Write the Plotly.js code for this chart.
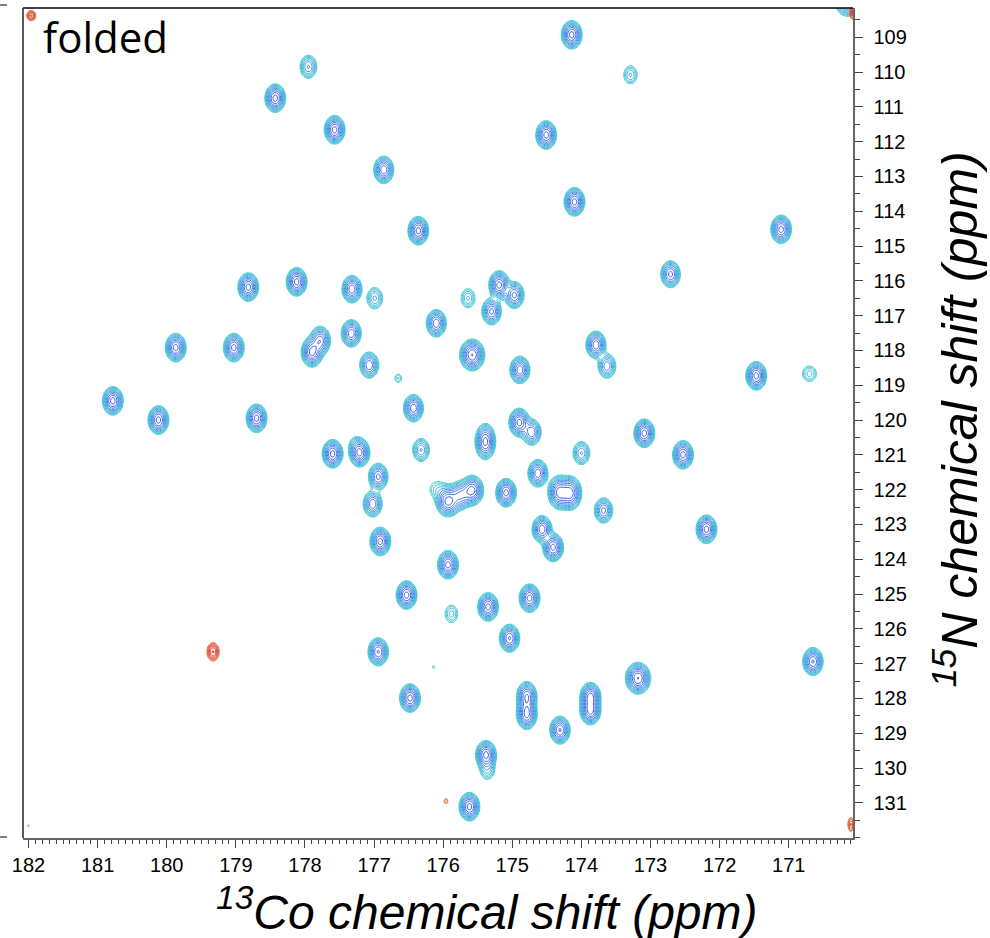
<!DOCTYPE html>
<html><head><meta charset="utf-8">
<script src="https://cdn.plot.ly/plotly-3.0.1.min.js"></script>
<style>body{margin:0;background:#fff}</style>
</head><body><div id="chart" style="width:990px;height:938px"></div>
<script>
// Positive cross-peaks (13C', 15N, height, linewidth C, linewidth N)
const posC  = [174.14,173.29,177.95,178.43,177.57,176.86,174.51,174.10,176.36,171.11,172.71,177.32,176.99,175.64,175.19,174.97,175.30,178.82,178.12,176.10,177.33,179.87,179.03,177.90,177.78,177.07,176.65,175.58,174.89,173.79,173.63,171.47,170.70,180.78,180.12,178.70,176.43,174.90,174.72,175.39,174.00,173.09,172.53,172.19,177.60,177.21,177.27,176.94,177.02,176.32,175.93,175.75,175.58,176.08,175.09,174.63,174.32,174.16,173.68,174.57,174.41,176.91,175.93,176.53,175.35,174.75,175.88,175.04,176.94,176.14,176.48,173.18,174.79,174.79,173.87,173.87,174.31,175.38,175.36,175.62,170.65,170.15,181.95];
const posN  = [108.93,110.08,109.85,110.75,111.66,112.81,111.81,113.73,114.56,114.52,115.81,116.24,116.50,116.50,116.12,116.41,116.88,116.18,116.03,117.22,117.51,117.92,117.92,118.05,117.72,118.42,118.80,118.13,118.56,117.84,118.45,118.73,118.67,119.45,120.00,119.95,119.66,120.07,120.35,120.62,120.95,120.38,121.00,123.14,120.97,120.94,120.70,121.63,122.41,120.86,122.34,122.16,122.02,122.00,122.09,121.53,122.08,122.10,122.60,123.14,123.66,123.49,124.16,125.03,125.37,125.12,125.57,126.27,126.66,127.10,127.99,127.42,127.95,128.45,127.95,128.35,128.91,129.62,130.05,131.11,126.94,107.95,108.00];
const posH  = [12,3,5,12,12,10,12,12,12,12,9,10,4,3,12,9,9,12,12,10,10,12,12,12,10,8,1.8,14,10,10,6,12,2.5,12,12,12,10,12,8,12,5,12,12,12,12,12,1.6,9,8,5,12,8,12,2,12,10,12,12,7,10,12,12,12,12,12,12,2.5,11,11,1.3,12,14,11,12,12,12,11,12,3,12,11,10,3];
const posWC = [.068,.066,.068,.068,.068,.068,.068,.068,.068,.068,.068,.068,.068,.068,.068,.068,.068,.068,.068,.068,.068,.068,.068,.07,.07,.068,.045,.08,.068,.068,.068,.068,.075,.068,.068,.068,.068,.068,.068,.068,.068,.068,.068,.068,.068,.068,.066,.068,.068,.068,.08,.08,.075,.095,.068,.068,.075,.075,.068,.068,.068,.068,.068,.068,.068,.068,.068,.068,.068,.03,.068,.08,.068,.068,.068,.068,.068,.068,.068,.068,.068,.085,.066];
const posWN = [.185,.175,.185,.185,.185,.185,.185,.185,.185,.185,.185,.185,.185,.185,.185,.185,.185,.185,.185,.185,.185,.185,.185,.195,.195,.185,.11,.2,.185,.185,.185,.185,.165,.185,.185,.185,.185,.185,.185,.235,.185,.185,.185,.185,.185,.185,.165,.185,.185,.185,.2,.2,.195,.195,.185,.185,.22,.22,.185,.185,.185,.185,.185,.185,.185,.185,.185,.185,.185,.05,.185,.2,.2,.2,.185,.185,.185,.185,.185,.185,.185,.21,.11];

// Negative (folded, opposite sign) peaks
const negC  = [179.33,175.96,182.00,170.10,181.96,170.05];
const negN  = [126.66,130.95,131.66,131.62,108.38,108.30];
const negH  = [5,1.6,1.3,3,4,5];
const negWC = [.05,.03,.02,.03,.04,.04];
const negWN = [.15,.08,.04,.14,.09,.12];

const xTicks = [182,181,180,179,178,177,176,175,174,173,172,171];
const yTicks = [109,110,111,112,113,114,115,116,117,118,119,120,121,122,123,124,125,126,127,128,129,130,131];

// spectrum grid built from the peak lists
const x0 = 169.8, dx = 0.02, nx = 626;
const y0 = 107.8, dy = 0.04, ny = 613;
const xs = Array.from({length:nx}, (_, i) => +(x0 + i*dx).toFixed(3));
const ys = Array.from({length:ny}, (_, j) => +(y0 + j*dy).toFixed(3));

function spectrum(C, N, H, WC, WN) {
  const z = ys.map(() => new Float64Array(nx));
  for (let p = 0; p < C.length; p++) {
    const i0 = Math.max(0, Math.floor((C[p] - 6*WC[p] - x0)/dx));
    const i1 = Math.min(nx-1, Math.ceil((C[p] + 6*WC[p] - x0)/dx));
    const j0 = Math.max(0, Math.floor((N[p] - 6*WN[p] - y0)/dy));
    const j1 = Math.min(ny-1, Math.ceil((N[p] + 6*WN[p] - y0)/dy));
    for (let j = j0; j <= j1; j++) {
      const ry = (ys[j] - N[p]) / WN[p];
      for (let i = i0; i <= i1; i++) {
        const rx = (xs[i] - C[p]) / WC[p];
        z[j][i] += H[p] * Math.exp(-0.5*(rx*rx + ry*ry));
      }
    }
  }
  return z.map(row => Array.from(row, v => Math.log(v + 1e-6)));
}

const step = Math.log(1.3);
const posTrace = {
  type: 'contour', x: xs, y: ys, z: spectrum(posC, posN, posH, posWC, posWN),
  contours: {coloring: 'lines', start: 0, end: Math.log(16), size: step},
  colorscale: [[0,'#42cacf'],[0.3,'#3ab4d8'],[0.6,'#3a80e6'],[1,'#2a4ce0']],
  zauto: false, zmin: 0, zmax: Math.log(14),
  line: {width: 1, smoothing: 1}, showscale: false, hoverinfo: 'skip'
};
const negTrace = {
  type: 'contour', x: xs, y: ys, z: spectrum(negC, negN, negH, negWC, negWN),
  contours: {coloring: 'lines', start: 0, end: Math.log(16), size: step},
  colorscale: [[0,'#ee7a50'],[0.5,'#e04a30'],[1,'#cc2020']],
  zauto: false, zmin: 0, zmax: Math.log(6),
  line: {width: 1, smoothing: 1}, showscale: false, hoverinfo: 'skip'
};

const tickFont = {family: 'Liberation Sans, Arial, sans-serif', size: 20, color: '#000'};
const layout = {
  width: 990, height: 938,
  margin: {l: 23, r: 137, t: 8, b: 100},
  paper_bgcolor: '#fff', plot_bgcolor: '#fff',
  showlegend: false,
  xaxis: {
    range: [182.08, 170.07], autorange: false,
    tickvals: xTicks, ticktext: xTicks.map(String),
    ticks: 'outside', ticklen: 8, tickwidth: 1, tickcolor: '#444',
    minor: {dtick: 0.1, tick0: 170, ticks: 'outside', ticklen: 4, tickwidth: 1, tickcolor: '#444'},
    showline: true, linecolor: '#666', linewidth: 1.5, mirror: false,
    showgrid: false, zeroline: false, tickfont: tickFont
  },
  yaxis: {
    range: [132.01, 108.16], autorange: false, side: 'right',
    tickvals: yTicks, ticktext: yTicks.map(String),
    ticks: 'outside', ticklen: 8, tickwidth: 1, tickcolor: '#444',
    minor: {dtick: 0.5, tick0: 108, ticks: 'outside', ticklen: 5, tickwidth: 1, tickcolor: '#444'},
    showline: true, linecolor: '#666', linewidth: 1.5, mirror: false,
    showgrid: false, zeroline: false, tickfont: tickFont, ticklabelstandoff: 7
  },
  shapes: [
    {type: 'line', xref: 'paper', yref: 'paper', x0: 0, x1: 1, y0: 1, y1: 1, line: {color: '#000', width: 1.5}},
    {type: 'line', xref: 'paper', yref: 'paper', x0: 0, x1: 0, y0: 0, y1: 1, line: {color: '#222', width: 1.5}},
    {type: 'line', xref: 'paper', yref: 'paper', x0: -0.0277, x1: -0.0193, y0: 1.0036, y1: 1.0036, line: {color: '#000', width: 1}},
    {type: 'line', xref: 'paper', yref: 'paper', x0: -0.0277, x1: -0.0193, y0: 0.0012, y1: 0.0012, line: {color: '#000', width: 1}}
  ],
  annotations: [
    {text: 'folded', xref: 'paper', yref: 'paper', x: 0.022, y: 0.966, xanchor: 'left', yanchor: 'middle',
     showarrow: false, font: {family: 'Open Sans, Noto Sans, sans-serif', size: 42, color: '#000'}},
    {text: '<sup>13</sup>Co chemical shift (ppm)', xref: 'paper', yref: 'paper', x: 0.559, y: -0.085,
     xanchor: 'center', yanchor: 'middle', showarrow: false,
     font: {family: 'Liberation Sans, Arial, sans-serif', size: 48, style: 'italic', color: '#000'}},
    {text: '<sup>15</sup>N chemical shift (ppm)', xref: 'paper', yref: 'paper', x: 1.124, y: 0.504,
     xanchor: 'center', yanchor: 'middle', textangle: -90, showarrow: false,
     font: {family: 'Liberation Sans, Arial, sans-serif', size: 50, style: 'italic', color: '#000'}}
  ]
};

Plotly.newPlot('chart', [posTrace, negTrace], layout, {displayModeBar: false, staticPlot: true});
</script>
</body></html>
